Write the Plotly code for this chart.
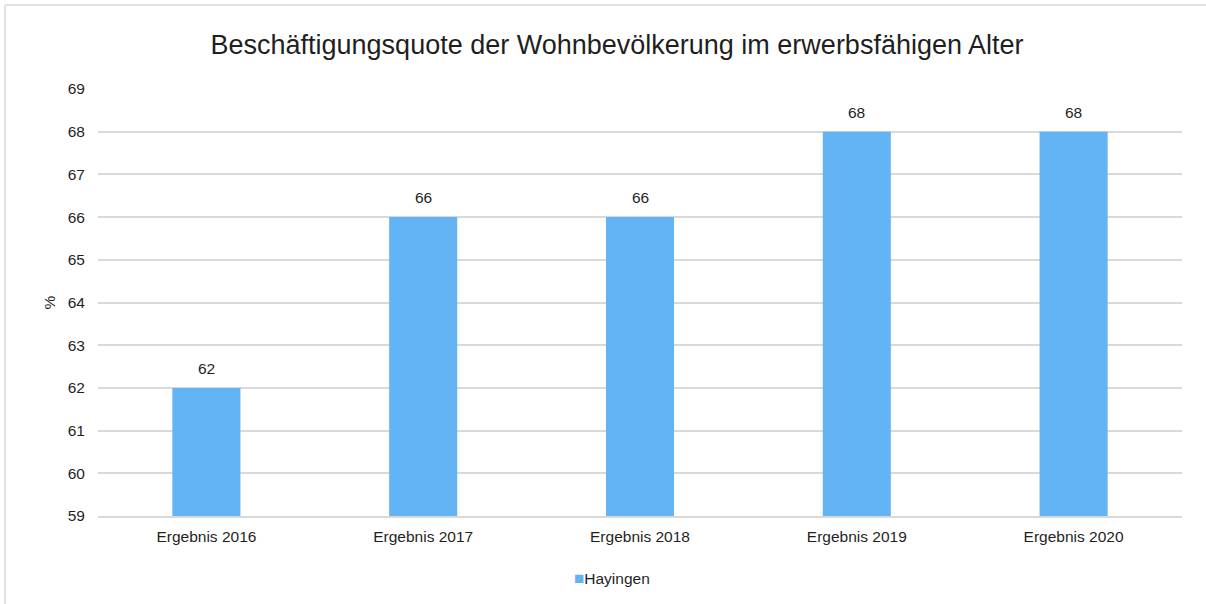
import plotly.graph_objects as go

categories = ["Ergebnis 2016", "Ergebnis 2017", "Ergebnis 2018", "Ergebnis 2019", "Ergebnis 2020"]
values = [62, 66, 66, 68, 68]
series_name = "Hayingen"
bar_color = "#63B4F5"
text_color = "#1f1f1f"

W, H = 1206, 604
ml, mr, mt, mb = 98, 24, 89, 88
pw, ph = W - ml - mr, H - mt - mb

def px_x(p):
    return (p - ml) / pw

def px_y(p):
    return (H - mb - p) / ph

fig = go.Figure()
fig.add_trace(go.Bar(
    x=categories, y=values, name=series_name,
    marker=dict(color=bar_color, line=dict(width=0)),
    showlegend=False,
))

# value labels above each bar
for c, v in zip(categories, values):
    fig.add_annotation(x=c, y=v, xref="x", yref="y", text=str(v),
                       showarrow=False, yanchor="bottom", yshift=9,
                       font=dict(size=15.5, color=text_color))

# legend entry below the axis
fig.add_annotation(xref="paper", yref="paper", x=px_x(612), y=px_y(578),
                   xanchor="center", yanchor="middle", showarrow=False,
                   text=f'<span style="color:{bar_color};font-size:17px">■</span>{series_name}',
                   font=dict(size=15.5, color=text_color))

# outer chart frame (top and left edges visible)
fig.add_shape(type="line", xref="paper", yref="paper",
              x0=px_x(5), x1=px_x(W + 5), y0=px_y(5), y1=px_y(5),
              line=dict(color="#d9d9d9", width=1.5))
fig.add_shape(type="line", xref="paper", yref="paper",
              x0=px_x(5), x1=px_x(5), y0=px_y(5), y1=px_y(H + 5),
              line=dict(color="#d9d9d9", width=1.5))

fig.update_layout(
    width=W, height=H,
    margin=dict(l=ml, r=mr, t=mt, b=mb),
    paper_bgcolor="white", plot_bgcolor="white",
    font=dict(family="Liberation Sans, Arial, sans-serif", size=15.5, color=text_color),
    title=dict(text="Beschäftigungsquote der Wohnbevölkerung im erwerbsfähigen Alter",
               x=617 / W, xref="container", xanchor="center", y=1 - 45 / H, yanchor="middle",
               font=dict(size=27, color=text_color)),
    bargap=0.686,
    showlegend=False,
    xaxis=dict(showgrid=False, showline=True, linecolor="#d9d9d9", linewidth=1.5,
               ticks="", tickfont=dict(size=15.5), ticklabelstandoff=6),
    yaxis=dict(range=[59, 69], dtick=1, showgrid=True, gridcolor="#d9d9d9", gridwidth=1.5,
               zeroline=False, ticks="", tickfont=dict(size=15.5), ticklabelstandoff=12,
               title=dict(text="%", font=dict(size=15.5), standoff=8)),
)

fig.write_html("out.html")
